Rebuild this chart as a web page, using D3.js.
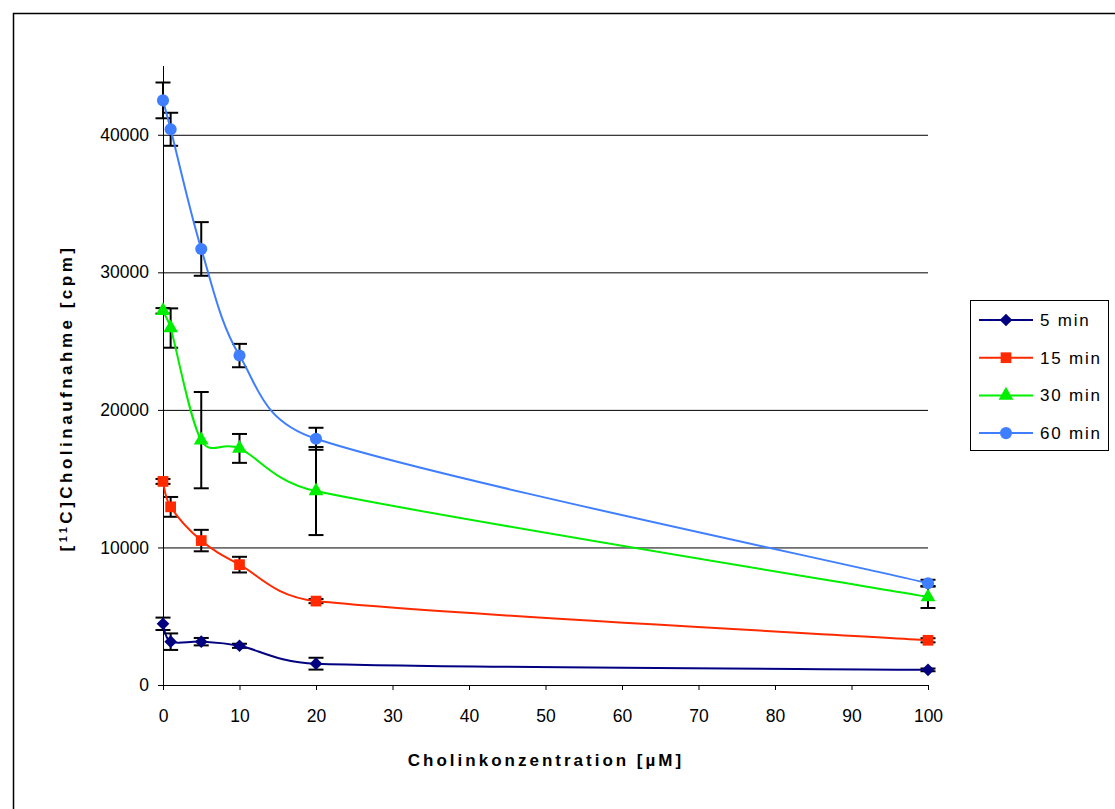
<!DOCTYPE html>
<meta charset="utf-8">
<script src="https://d3js.org/d3.v7.min.js"></script>
<style>
  body { margin: 0; background: #fff; }
  text { font-family: "Liberation Sans", Arial, sans-serif; }
</style>
<body>
<div id="chart"></div>
<script>
// concentrations (µM)
var conc = [0, 1, 5, 10, 20, 100];

// uptake values (cpm) and errors per series
var vals5 = [4450, 3150, 3150, 2850, 1550, 1100];
var err5 = [450, 600, 270, 150, 430, 100];
var vals15 = [14800, 12950, 10500, 8750, 6100, 3250];
var err15 = [180, 720, 780, 570, 150, 150];
var vals30 = [27200, 25950, 17800, 17200, 14100, 6400];
var err30 = [200, 1430, 3500, 1050, 3200, 800];
var vals60 = [42500, 40400, 31700, 23950, 17900, 7400];
var err60 = [1300, 1200, 1950, 850, 800, 250];

var seriesNames = ["5 min", "15 min", "30 min", "60 min"];
var yTicks = [0, 10000, 20000, 30000, 40000];
var xTicks = [0, 10, 20, 30, 40, 50, 60, 70, 80, 90, 100];

// excel-ish markers
var diamond = { draw: function(ctx, size) {
  var r = Math.sqrt(size / 2);
  ctx.moveTo(0, -r); ctx.lineTo(r, 0); ctx.lineTo(0, r); ctx.lineTo(-r, 0); ctx.closePath();
} };

var series = [
  { name: seriesNames[0], vals: vals5, err: err5, color: "#000080", sym: diamond, size: 80 },
  { name: seriesNames[1], vals: vals15, err: err15, color: "#ff2a00", sym: d3.symbolSquare, size: 115 },
  { name: seriesNames[2], vals: vals30, err: err30, color: "#00ee00", sym: d3.symbolTriangle, size: 95 },
  { name: seriesNames[3], vals: vals60, err: err60, color: "#3f7fff", sym: d3.symbolCircle, size: 115 }
];

var W = 1115, H = 809;
var svg = d3.select("#chart").append("svg")
  .attr("width", W).attr("height", H);

// outer chart border
svg.append("rect")
  .attr("x", 13.5).attr("y", 13.5)
  .attr("width", 1120).attr("height", 820)
  .attr("fill", "none").attr("stroke", "#000").attr("stroke-width", 1.5);

var x = d3.scaleLinear().domain([0, 100]).range([163, 928]);
var y = d3.scaleLinear().domain([0, 45000]).range([685, 66]);

// gridlines
svg.append("g").selectAll("line")
  .data(yTicks.slice(1))
  .enter().append("line")
  .attr("x1", x(0)).attr("x2", x(100))
  .attr("y1", function(d) { return y(d) + 0.5; })
  .attr("y2", function(d) { return y(d) + 0.5; })
  .attr("stroke", "#000").attr("stroke-width", 1);

// axes
var yAxis = svg.append("g")
  .attr("transform", "translate(" + x(0) + ",0)")
  .call(d3.axisLeft(y).tickValues(yTicks).tickSize(5).tickPadding(9).tickSizeOuter(0).tickFormat(d3.format("d")));
var xAxis = svg.append("g")
  .attr("transform", "translate(0," + y(0) + ")")
  .call(d3.axisBottom(x).tickValues(xTicks).tickSize(5).tickPadding(20).tickSizeOuter(0));
[xAxis, yAxis].forEach(function(a) {
  a.select(".domain").attr("stroke", "#000").attr("stroke-width", 1);
  a.selectAll("text").attr("font-size", 17.5).attr("fill", "#000")
    .style("font-family", "'Liberation Sans', Arial, sans-serif");
});
yAxis.select(".domain").attr("d", "M0.5," + y(0) + "V" + y(45000));

// error bars
var capW = 7.5;
series.forEach(function(s) {
  var g = svg.append("g").attr("stroke", "#000").attr("stroke-width", 2);
  conc.forEach(function(c, i) {
    var cx = x(c), top = y(s.vals[i] + s.err[i]), bot = y(s.vals[i] - s.err[i]);
    g.append("line").attr("x1", cx).attr("x2", cx).attr("y1", top).attr("y2", bot);
    g.append("line").attr("x1", cx - capW).attr("x2", cx + capW).attr("y1", top).attr("y2", top);
    g.append("line").attr("x1", cx - capW).attr("x2", cx + capW).attr("y1", bot).attr("y2", bot);
  });
});

// smoothed line like the spreadsheet's: bezier, control arms capped at half a segment
function smoothPath(pts) {
  var p = d3.path();
  p.moveTo(pts[0][0], pts[0][1]);
  for (var i = 0; i < pts.length - 1; i++) {
    var p0 = pts[Math.max(i - 1, 0)], p1 = pts[i], p2 = pts[i + 1], p3 = pts[Math.min(i + 2, pts.length - 1)];
    var d12 = Math.hypot(p2[0] - p1[0], p2[1] - p1[1]);
    var d02 = Math.hypot(p2[0] - p0[0], p2[1] - p0[1]);
    var d13 = Math.hypot(p3[0] - p1[0], p3[1] - p1[1]);
    var f1 = d02 / 6 < d12 / 2 ? 1 / 6 : d12 / (2 * d02);
    var f2 = d13 / 6 < d12 / 2 ? 1 / 6 : d12 / (2 * d13);
    p.bezierCurveTo(
      p1[0] + (p2[0] - p0[0]) * f1, p1[1] + (p2[1] - p0[1]) * f1,
      p2[0] - (p3[0] - p1[0]) * f2, p2[1] - (p3[1] - p1[1]) * f2,
      p2[0], p2[1]);
  }
  return p.toString();
}

series.forEach(function(s) {
  var pts = conc.map(function(c, i) { return [x(c), y(s.vals[i])]; });
  svg.append("path")
    .attr("d", smoothPath(pts))
    .attr("fill", "none")
    .attr("stroke", s.color)
    .attr("stroke-width", 2);
});

// markers
series.forEach(function(s) {
  svg.append("g").selectAll("path")
    .data(conc.map(function(c, i) { return [c, s.vals[i]]; }))
    .enter().append("path")
    .attr("d", d3.symbol().type(s.sym).size(s.size)())
    .attr("transform", function(d) { return "translate(" + x(d[0]) + "," + y(d[1]) + ")"; })
    .attr("fill", s.color);
});

// axis titles
svg.append("text")
  .attr("x", 546).attr("y", 766)
  .attr("text-anchor", "middle")
  .attr("font-size", 17).attr("font-weight", "bold")
  .attr("letter-spacing", 3)
  .text("Cholinkonzentration [µM]");

var yt = svg.append("text")
  .attr("transform", "translate(72,398) rotate(-90)")
  .attr("text-anchor", "middle")
  .attr("font-size", 17).attr("font-weight", "bold")
  .attr("letter-spacing", 3.5);
yt.append("tspan").text("[");
yt.append("tspan").attr("font-size", 11).attr("dy", -5).text("11");
yt.append("tspan").attr("dy", 5).text("C]Cholinaufnahme [cpm]");

// legend
var lg = svg.append("g");
lg.append("rect")
  .attr("x", 970.5).attr("y", 300.5)
  .attr("width", 138).attr("height", 150)
  .attr("fill", "#fff").attr("stroke", "#000").attr("stroke-width", 1);
series.forEach(function(s, i) {
  var ly = 320 + i * 37.7;
  lg.append("line")
    .attr("x1", 979).attr("x2", 1033).attr("y1", ly).attr("y2", ly)
    .attr("stroke", s.color).attr("stroke-width", 2);
  lg.append("path")
    .attr("d", d3.symbol().type(s.sym).size(s.size)())
    .attr("transform", "translate(1006," + ly + ")")
    .attr("fill", s.color);
  lg.append("text")
    .attr("x", 1040).attr("y", ly + 6)
    .attr("font-size", 17)
    .attr("letter-spacing", 1.8)
    .text(s.name);
});
</script>
</body>
</html>
